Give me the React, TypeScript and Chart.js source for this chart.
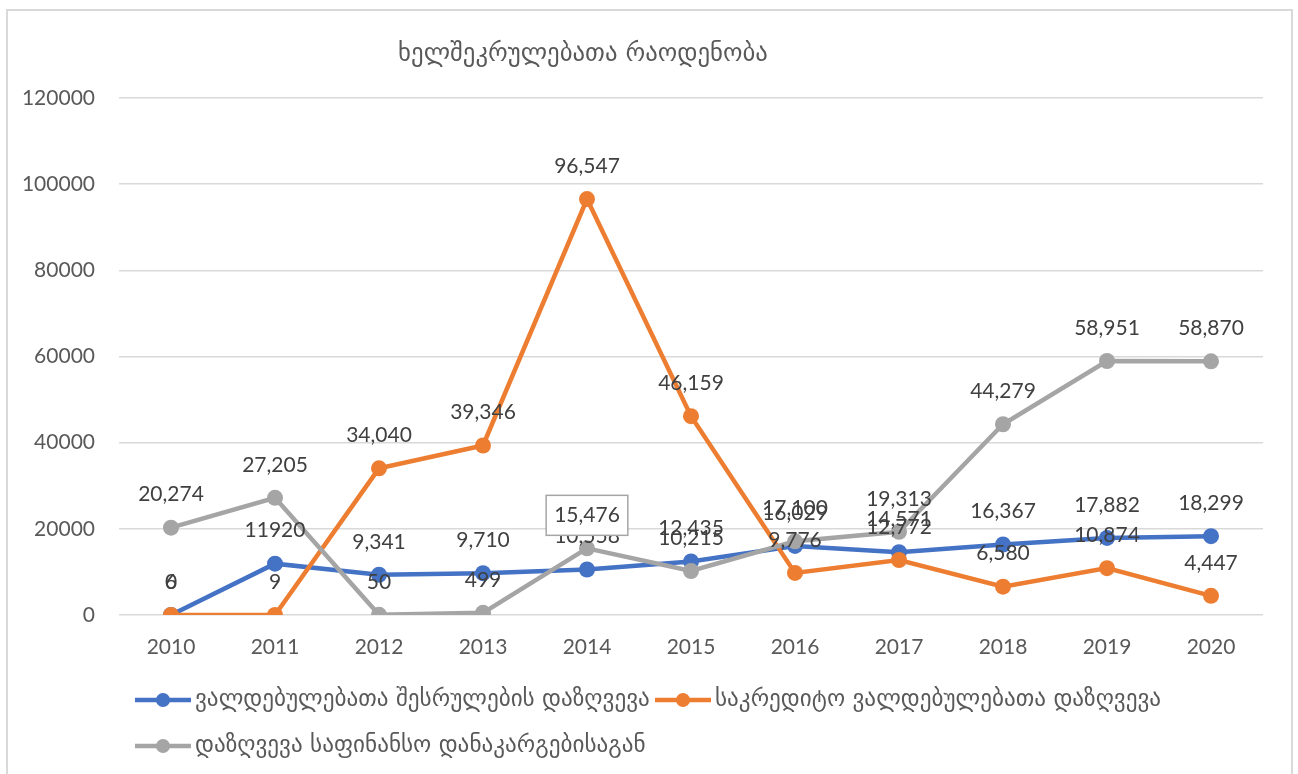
import React, { useEffect, useRef } from "react";
import { Chart, registerables } from "chart.js";

Chart.register(...registerables);

const titleText = "ხელშეკრულებათა რაოდენობა";
const years = ["2010", "2011", "2012", "2013", "2014", "2015", "2016", "2017", "2018", "2019", "2020"];
const seriesNames = [
  "ვალდებულებათა შესრულების დაზღვევა",
  "საკრედიტო ვალდებულებათა დაზღვევა",
  "დაზღვევა საფინანსო დანაკარგებისაგან",
];
const performanceIns = [6, 11920, 9341, 9710, 10558, 12435, 16029, 14571, 16367, 17882, 18299];
const creditIns = [0, 9, 34040, 39346, 96547, 46159, 9776, 12772, 6580, 10874, 4447];
const financialIns = [20274, 27205, 50, 499, 15476, 10215, 17100, 19313, 44279, 58951, 58870];
const yTicks = [0, 20000, 40000, 60000, 80000, 100000, 120000];

const colors = ["#4472C4", "#ED7D31", "#A5A5A5"];
const NUM_FONT = "Lato, 'Open Sans', sans-serif";
const GEO_FONT = "'DejaVu Sans', 'Noto Sans', sans-serif";

function fitSize(ctx: CanvasRenderingContext2D, text: string, family: string, target: number) {
  ctx.font = `100px ${family}`;
  const w = ctx.measureText(text).width;
  return (100 * target) / w;
}

const decorPlugin = {
  id: "decor",
  afterDraw(chart: any) {
    const ctx: CanvasRenderingContext2D = chart.ctx;
    ctx.save();
    // outer border
    ctx.strokeStyle = "#D9D9D9";
    ctx.lineWidth = 2;
    ctx.strokeRect(7, 10, 1285, 775);

    // data labels
    ctx.font = `21px ${NUM_FONT}`;
    ctx.textAlign = "center";
    ctx.textBaseline = "middle";
    [0, 1, 2].forEach((di) => {
      const meta = chart.getDatasetMeta(di);
      const data = chart.data.datasets[di].data as number[];
      meta.data.forEach((pt: any, i: number) => {
        const v = data[i];
        let txt = v.toLocaleString("en-US");
        if (di === 0 && i === 1) txt = String(v);
        const x = pt.x;
        const y = pt.y - 33;
        if (di === 2 && i === 4) {
          const w = ctx.measureText(txt).width + 16;
          ctx.fillStyle = "#FFFFFF";
          ctx.fillRect(x - w / 2, y - 20, w, 40);
          ctx.strokeStyle = "#A6A6A6";
          ctx.lineWidth = 1.5;
          ctx.strokeRect(x - w / 2, y - 20, w, 40);
        }
        ctx.fillStyle = "#404040";
        ctx.fillText(txt, x, y);
      });
    });

    // title
    const ts = fitSize(ctx, titleText, GEO_FONT, 370);
    ctx.font = `${ts}px ${GEO_FONT}`;
    ctx.fillStyle = "#595959";
    ctx.textAlign = "center";
    ctx.fillText(titleText, 583, 55);

    // legend
    const ls = fitSize(ctx, seriesNames[0], GEO_FONT, 455);
    const items = [
      { x: 135, y: 700, c: colors[0], t: seriesNames[0] },
      { x: 655, y: 700, c: colors[1], t: seriesNames[1] },
      { x: 135, y: 746, c: colors[2], t: seriesNames[2] },
    ];
    items.forEach((it) => {
      ctx.strokeStyle = it.c;
      ctx.lineWidth = 4.5;
      ctx.beginPath();
      ctx.moveTo(it.x, it.y);
      ctx.lineTo(it.x + 56, it.y);
      ctx.stroke();
      ctx.fillStyle = it.c;
      ctx.beginPath();
      ctx.arc(it.x + 28, it.y, 7, 0, Math.PI * 2);
      ctx.fill();
      ctx.font = `${ls}px ${GEO_FONT}`;
      ctx.fillStyle = "#595959";
      ctx.textAlign = "left";
      ctx.textBaseline = "middle";
      ctx.fillText(it.t, it.x + 60, it.y);
    });
    ctx.restore();
  },
};

export default function App() {
  const ref = useRef<HTMLCanvasElement | null>(null);
  useEffect(() => {
    if (!ref.current) return;
    const mk = (label: string, data: number[], color: string, order: number) => ({
      label,
      data,
      borderColor: color,
      backgroundColor: color,
      borderWidth: 4.5,
      pointRadius: 8,
      pointBorderWidth: 0,
      pointBackgroundColor: color,
      tension: 0,
      order,
    });
    const chart = new Chart(ref.current, {
      type: "line",
      data: {
        labels: years,
        datasets: [
          mk(seriesNames[0], performanceIns, colors[0], 3),
          mk(seriesNames[1], creditIns, colors[1], 2),
          mk(seriesNames[2], financialIns, colors[2], 1),
        ],
      },
      options: {
        responsive: false,
        animation: false,
        layout: { padding: { left: 0, top: 98, right: 35, bottom: 0 } },
        plugins: {
          legend: { display: false },
          title: { display: false },
          tooltip: { enabled: false },
        },
        scales: {
          x: {
            offset: true,
            grid: { display: false, drawTicks: false },
            border: { display: false },
            ticks: { color: "#595959", font: { size: 21, family: NUM_FONT }, padding: 20, maxRotation: 0 },
            afterFit: (s: any) => {
              s.height = 159;
            },
          },
          y: {
            min: 0,
            max: 120000,
            afterBuildTicks: (s: any) => {
              s.ticks = yTicks.map((v) => ({ value: v }));
            },
            grid: { color: "#D9D9D9", lineWidth: 1.5, drawTicks: false },
            border: { display: false },
            ticks: {
              color: "#595959",
              font: { size: 21, family: NUM_FONT },
              padding: 24,
              callback: (v: any) => String(v),
            },
            afterFit: (s: any) => {
              s.width = 119;
            },
          },
        },
      },
      plugins: [decorPlugin],
    } as any);
    return () => chart.destroy();
  }, []);
  return (
    <div style={{ position: "fixed", left: 0, top: 0, width: 1298, height: 774, background: "#fff" }}>
      <canvas ref={ref} width={1298} height={774} style={{ width: 1298, height: 774, display: "block" }} />
    </div>
  );
}
